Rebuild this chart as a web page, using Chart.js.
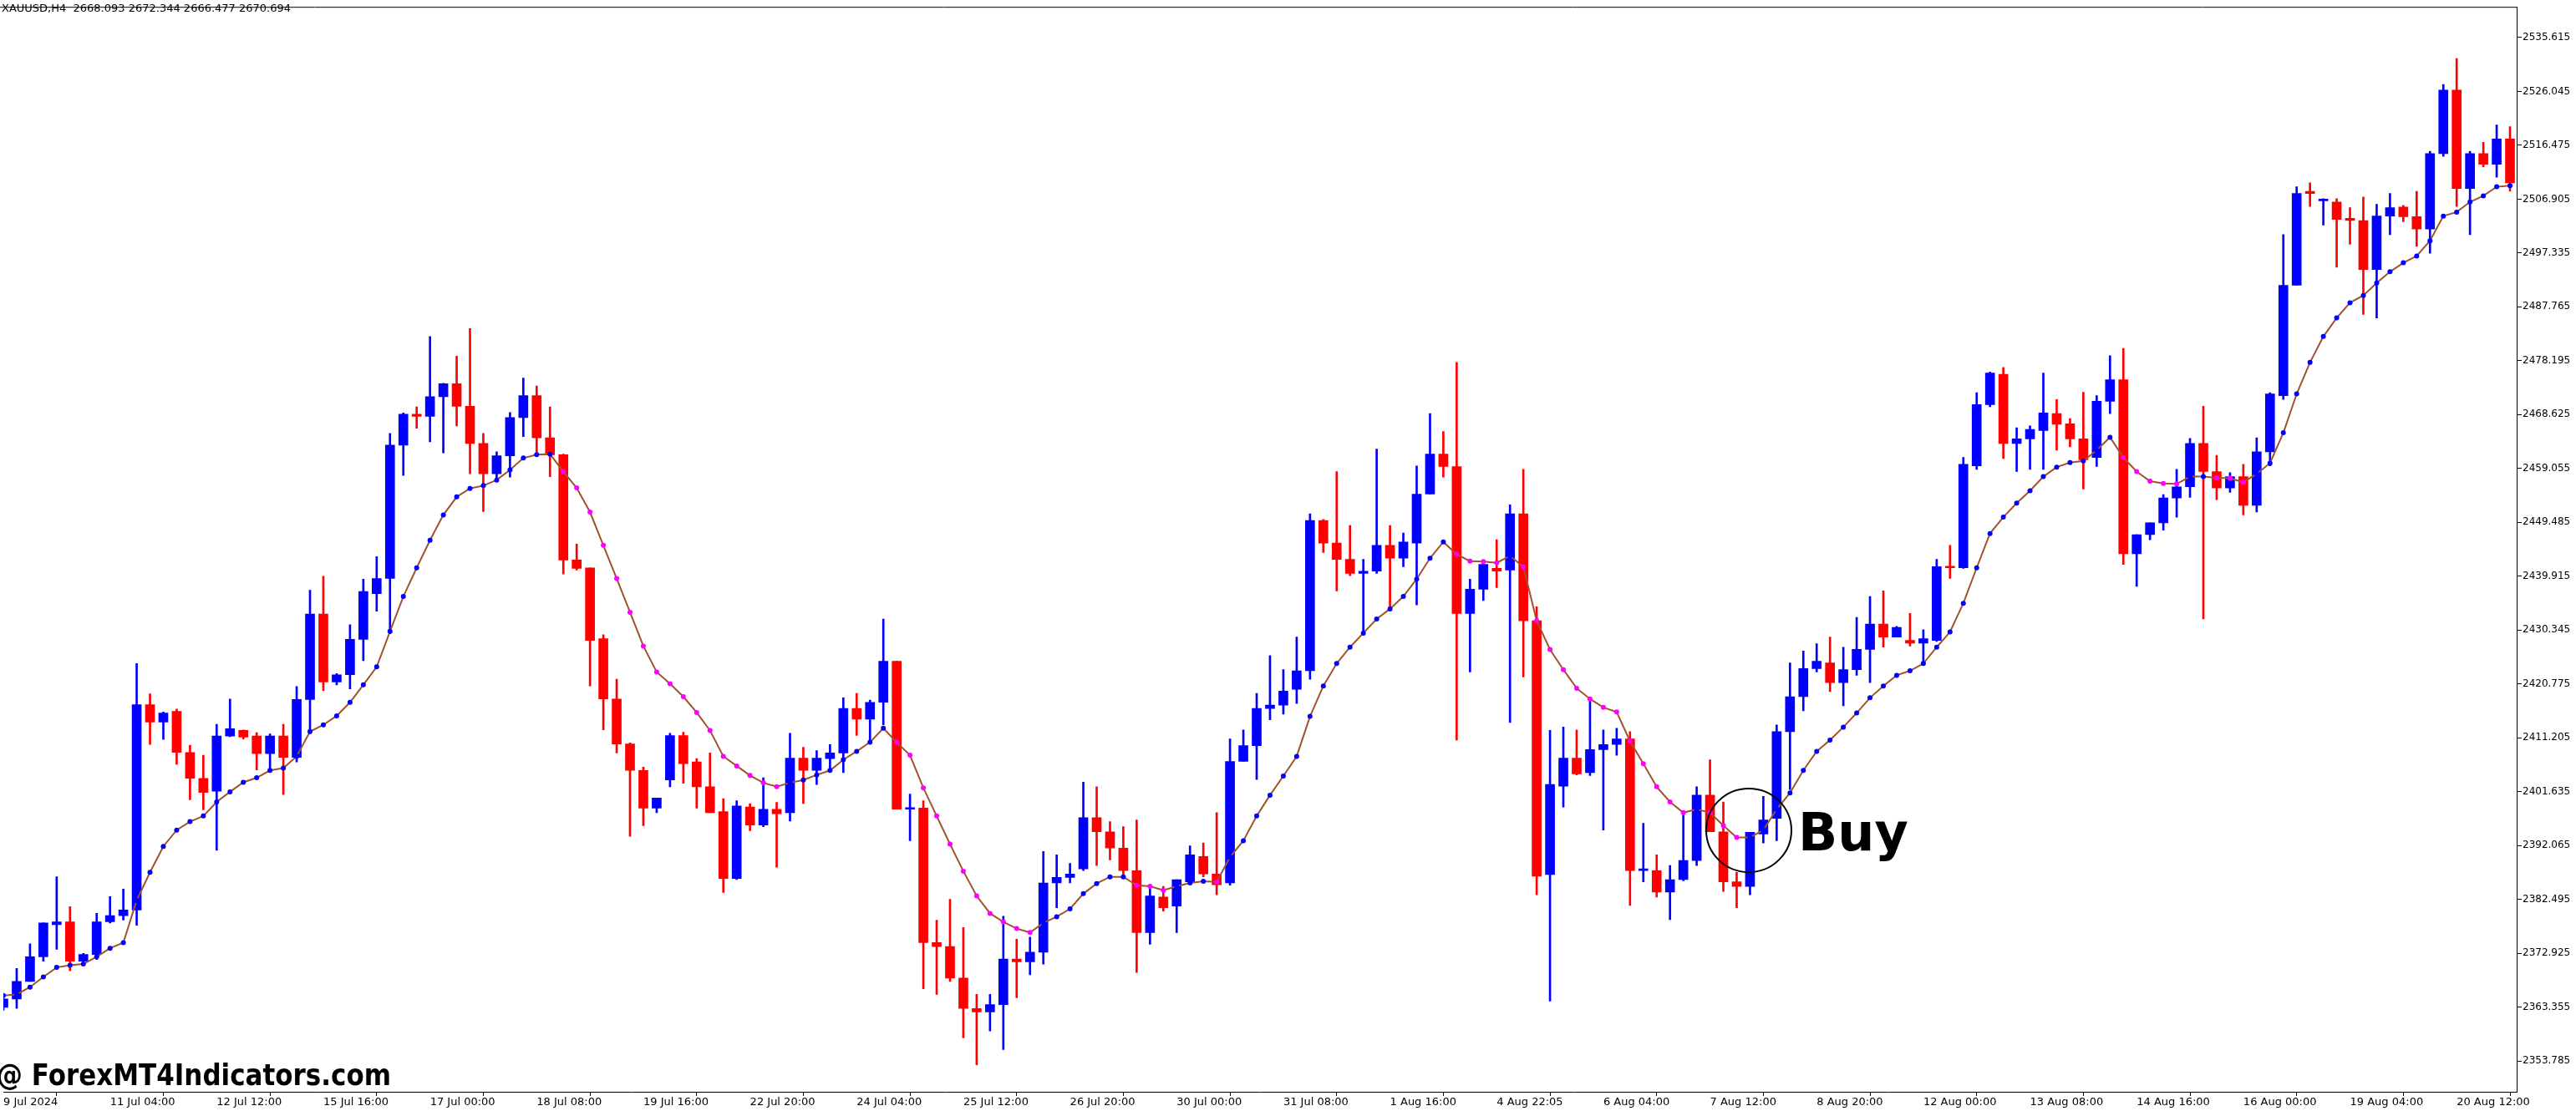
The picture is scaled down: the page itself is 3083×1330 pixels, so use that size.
<!DOCTYPE html>
<html>
<head>
<meta charset="utf-8">
<script src="https://cdn.jsdelivr.net/npm/chart.js@4.4.1/dist/chart.umd.min.js"></script>
<style>
  html, body { margin: 0; padding: 0; background: #fff; }
  #wrap { width: 3083px; height: 1330px; }
</style>
</head>
<body>
<div id="wrap"><canvas id="myChart" width="3083" height="1330"></canvas></div>
<script>
// XAUUSD H4 candles, 9 Jul - 20 Aug 2024
var open = [2363.3,2364.8,2367.9,2372.3,2378.0,2378.5,2371.5,2372.7,2378.5,2379.6,
 2380.6,2417.1,2414.0,2415.9,2408.6,2404.0,2401.7,2411.5,2412.5,2411.5,
 2408.4,2411.5,2407.7,2418.0,2433.2,2421.1,2422.4,2428.7,2436.8,2439.5,
 2463.2,2468.7,2468.3,2471.8,2474.1,2470.1,2463.5,2458.1,2461.3,2468.1,
 2472.0,2464.5,2461.5,2442.8,2441.4,2428.8,2418.1,2410.1,2405.4,2398.7,
 2403.7,2411.6,2406.9,2402.5,2398.1,2386.2,2398.9,2395.7,2398.5,2397.9,
 2407.6,2405.4,2407.5,2408.5,2416.4,2414.5,2417.5,2424.8,2398.5,2398.7,
 2374.8,2374.1,2368.5,2363.1,2362.5,2363.8,2371.9,2371.4,2373.1,2385.4,
 2386.4,2387.9,2397.0,2394.5,2391.6,2387.6,2376.6,2382.9,2381.3,2385.6,
 2390.1,2387.0,2385.4,2407.0,2409.8,2416.4,2417.0,2419.8,2423.1,2449.8,
 2445.8,2442.9,2440.4,2440.8,2445.4,2443.1,2445.8,2454.5,2461.6,2459.4,
 2433.3,2437.6,2441.3,2441.0,2451.0,2432.0,2386.9,2402.6,2407.6,2405.0,
 2409.1,2410.0,2411.0,2387.6,2387.6,2383.8,2386.0,2389.4,2401.0,2394.5,
 2385.6,2384.8,2394.1,2396.9,2412.3,2418.5,2423.5,2424.5,2421.0,2423.3,
 2426.9,2431.4,2429.1,2428.5,2428.0,2428.5,2441.6,2441.4,2459.5,2470.4,
 2475.8,2463.5,2464.3,2465.8,2468.8,2467.0,2464.3,2461.0,2471.0,2474.8,
 2443.9,2447.3,2449.4,2453.8,2455.8,2463.5,2458.5,2455.6,2457.6,2452.5,
 2462.0,2472.0,2491.6,2508.3,2506.6,2506.4,2503.5,2503.1,2494.4,2503.9,
 2505.5,2503.8,2501.6,2515.0,2526.3,2508.8,2515.0,2513.1,2517.6];
var close = [2364.8,2367.9,2372.3,2378.3,2378.5,2371.5,2372.7,2378.5,2379.6,2380.6,
 2417.1,2414.0,2415.6,2408.6,2404.0,2401.5,2411.5,2412.8,2411.3,2408.4,
 2411.5,2407.7,2418.0,2433.2,2421.1,2422.4,2428.7,2437.2,2439.5,2463.2,
 2468.7,2468.3,2471.8,2474.1,2470.1,2463.5,2458.1,2461.3,2468.1,2472.0,
 2464.5,2461.5,2442.8,2441.3,2428.5,2418.1,2410.1,2405.4,2398.7,2400.5,
 2411.6,2406.6,2402.5,2397.9,2386.2,2399.1,2395.7,2398.5,2397.7,2407.6,
 2405.4,2407.6,2408.5,2416.4,2414.5,2417.5,2424.8,2398.5,2398.7,2374.8,
 2374.1,2368.5,2363.1,2362.5,2363.8,2371.9,2371.4,2373.1,2385.4,2386.4,
 2387.0,2397.0,2394.5,2391.6,2387.6,2376.6,2383.1,2381.0,2386.0,2390.4,
 2387.0,2385.1,2407.0,2409.8,2416.4,2417.0,2419.5,2423.1,2449.8,2445.8,
 2442.9,2440.4,2440.8,2445.4,2443.1,2446.0,2454.5,2461.6,2459.4,2433.3,
 2437.6,2442.0,2440.8,2451.0,2432.0,2386.6,2402.9,2407.6,2404.8,2409.1,
 2410.0,2411.0,2387.6,2387.9,2383.8,2386.0,2389.4,2401.0,2394.5,2385.6,
 2384.8,2394.4,2396.6,2412.3,2418.5,2423.5,2424.8,2421.0,2423.3,2426.9,
 2431.4,2429.1,2430.8,2428.0,2428.8,2441.6,2441.4,2459.8,2470.4,2476.0,
 2463.5,2464.3,2466.0,2468.9,2466.9,2464.3,2460.6,2471.0,2474.8,2443.9,
 2447.3,2449.4,2453.8,2455.8,2463.5,2458.5,2455.6,2457.6,2452.5,2462.0,
 2472.3,2491.6,2507.9,2507.9,2506.9,2503.3,2503.1,2494.4,2503.9,2505.4,
 2503.8,2501.6,2515.0,2526.3,2508.8,2515.0,2513.1,2517.6,2509.8];
var high = [2365.0,2370.2,2374.6,2378.3,2386.5,2381.2,2372.9,2380.0,2383.0,2384.3,
 2424.4,2419.0,2415.8,2416.3,2409.9,2408.1,2413.6,2418.1,2412.6,2412.1,
 2411.9,2413.6,2420.3,2437.4,2439.9,2422.6,2431.3,2439.4,2443.4,2465.3,
 2468.9,2470.0,2482.5,2474.2,2479.0,2483.9,2465.3,2462.0,2469.0,2475.1,
 2473.7,2470.0,2461.6,2445.6,2441.4,2429.5,2421.6,2410.3,2406.0,2400.5,
 2412.0,2412.2,2407.5,2408.5,2400.4,2400.0,2399.5,2404.1,2399.7,2412.0,
 2409.5,2408.9,2410.0,2418.3,2419.1,2417.9,2432.3,2424.8,2401.2,2400.0,
 2378.8,2382.5,2377.5,2365.6,2365.6,2379.5,2375.4,2375.8,2391.0,2390.4,
 2388.9,2403.3,2402.5,2396.3,2395.4,2396.6,2385.0,2384.8,2386.0,2392.0,
 2392.5,2397.9,2411.0,2412.6,2419.1,2425.8,2423.3,2429.1,2451.0,2450.0,
 2458.5,2448.9,2442.9,2462.5,2448.9,2447.6,2459.5,2468.8,2465.6,2477.9,
 2439.4,2442.0,2446.4,2452.6,2458.9,2434.5,2412.5,2413.1,2412.6,2417.9,
 2412.6,2412.9,2412.3,2396.0,2390.4,2388.5,2397.9,2402.5,2407.3,2399.8,
 2387.3,2394.4,2400.8,2413.5,2424.5,2426.6,2427.9,2429.1,2427.3,2432.6,
 2436.3,2437.3,2431.0,2433.3,2430.4,2442.9,2445.4,2461.0,2472.5,2476.2,
 2477.0,2466.3,2466.6,2476.0,2471.3,2467.9,2472.6,2472.0,2479.1,2480.4,
 2447.3,2449.4,2454.4,2458.9,2464.4,2470.1,2461.4,2458.3,2459.8,2464.5,
 2472.5,2500.6,2509.1,2509.8,2507.0,2507.0,2505.4,2507.3,2506.0,2507.9,
 2505.8,2508.3,2515.4,2527.3,2531.9,2515.4,2517.0,2520.1,2519.8];
var low = [2362.8,2363.1,2367.9,2371.5,2373.6,2369.8,2371.3,2371.8,2378.3,2378.8,
 2377.9,2410.0,2410.9,2406.5,2400.2,2398.4,2391.2,2411.4,2411.0,2405.5,
 2405.5,2401.1,2406.9,2411.9,2419.6,2420.6,2419.9,2424.9,2433.7,2429.7,
 2457.8,2466.2,2463.8,2461.8,2466.6,2458.1,2451.4,2457.2,2457.5,2464.7,
 2461.6,2457.6,2440.3,2441.0,2420.4,2412.6,2408.5,2393.7,2395.6,2397.9,
 2402.5,2403.1,2398.7,2397.9,2383.7,2386.0,2394.7,2395.4,2388.2,2396.4,
 2399.5,2402.9,2405.4,2405.0,2411.6,2410.4,2413.5,2398.5,2392.9,2366.6,
 2365.6,2367.9,2357.9,2353.1,2359.1,2355.8,2365.0,2369.1,2371.0,2381.0,
 2385.4,2387.6,2388.5,2389.5,2386.4,2369.5,2374.5,2380.4,2376.6,2385.6,
 2386.5,2383.3,2385.0,2407.0,2403.8,2414.4,2415.4,2417.3,2421.6,2444.1,
 2437.3,2440.0,2429.8,2440.4,2434.1,2441.6,2434.8,2454.5,2457.5,2410.8,
 2422.9,2435.6,2437.9,2413.9,2422.0,2383.3,2364.4,2398.9,2404.6,2404.5,
 2394.8,2408.1,2381.4,2385.6,2382.9,2378.9,2385.8,2388.5,2394.5,2383.9,
 2381.0,2383.3,2392.5,2392.9,2402.0,2416.0,2422.9,2419.4,2416.9,2422.3,
 2421.0,2427.3,2429.1,2427.5,2424.5,2428.3,2439.5,2441.3,2458.9,2470.0,
 2460.8,2458.5,2458.9,2458.9,2462.3,2462.9,2455.4,2459.4,2468.8,2442.0,
 2438.1,2446.4,2448.1,2450.4,2453.9,2432.3,2453.5,2454.8,2450.8,2451.3,
 2459.5,2471.3,2491.6,2505.6,2502.3,2494.8,2498.9,2486.4,2485.8,2500.6,
 2502.9,2498.5,2497.3,2514.5,2505.6,2500.6,2512.6,2510.8,2508.3];
// moving average line
var ma = [2365.4,2365.6,2366.9,2368.7,2370.4,2370.8,2371.0,2372.3,2373.8,2374.8,
 2382.3,2387.3,2391.9,2394.8,2396.3,2397.3,2399.8,2401.6,2403.3,2404.1,
 2405.4,2405.8,2407.9,2412.3,2413.5,2415.1,2417.5,2420.6,2423.8,2430.1,
 2436.3,2441.4,2446.3,2450.8,2454.0,2455.5,2456.0,2457.0,2458.8,2460.9,
 2461.5,2461.6,2458.5,2455.6,
 2451.3,2445.4,2439.5,2433.5,2427.5,2422.9,2420.8,2418.5,2415.7,2412.5,
 2407.9,2406.2,2404.5,2403.2,2402.5,2403.2,2403.7,2404.6,2405.4,2407.3,
 2408.8,2410.4,2412.9,2410.4,2408.1,2402.3,2397.3,2392.3,2387.5,2383.1,
 2380.0,2378.5,2377.3,2376.6,2378.3,2379.4,2380.8,2383.5,2385.3,2386.5,
 2386.5,2385.0,2384.8,2384.1,
 2384.8,2385.4,2385.7,2385.6,2390.0,2392.9,2397.3,2401.0,2404.4,2407.9,
 2415.0,2420.4,2424.4,2427.3,2429.8,2432.3,2434.1,2436.3,2439.4,2443.1,
 2446.0,2443.8,2442.6,2442.5,2442.3,2443.5,2441.6,2432.0,2426.9,2423.3,
 2420.0,2418.1,2416.6,2415.8,2410.6,2406.6,2402.5,2399.8,2397.9,2398.5,
 2397.9,2395.6,2393.5,2393.5,
 2394.8,2398.5,2401.4,2405.4,2408.8,2410.8,2413.1,2415.6,2418.3,2420.4,
 2422.3,2423.1,2424.4,2427.3,2430.0,2435.1,2441.4,2447.5,2450.4,2452.9,
 2455.1,2457.6,2459.3,2460.1,2460.4,2462.3,2464.6,2461.0,2458.5,2456.8,
 2456.4,2456.3,2457.6,2457.6,2457.4,2457.3,2456.6,2458.1,2460.0,2465.4,
 2472.3,2477.9,2482.5,
 2485.8,2488.5,2489.8,2492.0,2494.0,2495.6,2496.8,2499.5,2503.9,2504.6,
 2506.4,2507.5,2509.1,2509.3];

// time labels, one every 8 bars
var timeLabels = ['9 Jul 2024','11 Jul 04:00','12 Jul 12:00','15 Jul 16:00','17 Jul 00:00','18 Jul 08:00',
 '19 Jul 16:00','22 Jul 20:00','24 Jul 04:00','25 Jul 12:00','26 Jul 20:00','30 Jul 00:00',
 '31 Jul 08:00','1 Aug 16:00','4 Aug 22:05','6 Aug 04:00','7 Aug 12:00','8 Aug 20:00',
 '12 Aug 00:00','13 Aug 08:00','14 Aug 16:00','16 Aug 00:00','19 Aug 04:00','20 Aug 12:00'];
var priceTicks = [2353.785,2363.355,2372.925,2382.495,2392.065,2401.635,2411.205,2420.775,2430.345,
 2439.915,2449.485,2459.055,2468.625,2478.195,2487.765,2497.335,2506.905,2516.475,2526.045,2535.615];

var idx = open.map(function (v, i) { return i; });
var candleColor = idx.map(function (i) { return close[i] >= open[i] ? '#0000ff' : '#ff0000'; });
var maColor = idx.map(function (i) { return (i > 0 && ma[i] < ma[i - 1]) ? '#ff00ff' : '#0000ff'; });

var extras = {
    id: 'extras',
    afterDraw: function (chart) {
        var c = chart.ctx, a = chart.chartArea;
        c.save();
        c.strokeStyle = '#000';
        c.lineWidth = 1;
        c.beginPath(); c.moveTo(0, a.top + 0.5); c.lineTo(a.right, a.top + 0.5); c.stroke();

        c.fillStyle = '#000';
        c.font = '13px "DejaVu Sans"';
        c.textBaseline = 'middle';
        c.fillText('XAUUSD,H4  2668.093 2672.344 2666.477 2670.694', 2, 11);

        // buy marker
        c.lineWidth = 2;
        c.beginPath(); c.ellipse(2093, 994, 51, 50, 0, 0, Math.PI * 2); c.stroke();
        c.font = 'bold 62px "DejaVu Sans"';
        c.textBaseline = 'alphabetic';
        c.fillText('Buy', 2152, 1018);

        // watermark
        c.font = 'bold 36px "DejaVu Sans"';
        var txt = '@ ForexMT4Indicators.com';
        var w = c.measureText(txt).width;
        c.translate(-4, 1299);
        c.scale(472 / w, 1);
        c.fillText(txt, 0, 0);
        c.restore();
    }
};

var ctx = document.getElementById('myChart').getContext('2d');
var chart = new Chart(ctx, {
    type: 'bar',
    data: {
        datasets: [{
            type: 'line',
            data: idx.map(function (i) { return { x: i, y: ma[i] }; }),
            borderColor: '#a0522d',
            borderWidth: 2,
            pointRadius: 3,
            pointBorderWidth: 0,
            pointBackgroundColor: maColor,
            tension: 0,
            order: 0
        }, {
            data: idx.map(function (i) { return { x: i, y: [open[i], close[i]] }; }),
            backgroundColor: candleColor,
            barThickness: 11,
            minBarLength: 2,
            grouped: false,
            order: 1
        }, {
            data: idx.map(function (i) { return { x: i, y: [low[i], high[i]] }; }),
            backgroundColor: candleColor,
            barThickness: 2,
            grouped: false,
            order: 2
        }]
    },
    options: {
        responsive: false,
        devicePixelRatio: 1,
        animation: false,
        layout: { padding: 0 },
        plugins: { legend: { display: false }, tooltip: { enabled: false } },
        scales: {
            x: {
                type: 'linear',
                min: 0,
                max: 188.5,
                offset: false,
                afterFit: function (s) { s.height = 23; },
                afterBuildTicks: function (s) {
                    s.ticks = timeLabels.map(function (t, k) { return { value: k * 8 }; });
                },
                ticks: {
                    autoSkip: false,
                    maxRotation: 0,
                    align: 'start',
                    padding: 0,
                    color: '#000',
                    font: { family: 'DejaVu Sans', size: 13 },
                    callback: function (v) { return timeLabels[Math.round(v / 8)]; }
                },
                grid: { drawOnChartArea: false, tickLength: 5, color: '#000' },
                border: { color: '#000', width: 1 }
            },
            y: {
                position: 'right',
                min: 2348.3,
                max: 2541.07,
                afterFit: function (s) { s.width = 71; },
                afterBuildTicks: function (s) {
                    s.ticks = priceTicks.map(function (v) { return { value: v }; });
                },
                ticks: {
                    padding: 1,
                    color: '#000',
                    font: { family: 'DejaVu Sans', size: 12 },
                    callback: function (v) { return v.toFixed(3); }
                },
                grid: { drawOnChartArea: false, tickLength: 6, color: '#000' },
                border: { color: '#000', width: 1 }
            }
        }
    },
    plugins: [extras]
});
</script>
</body>
</html>
